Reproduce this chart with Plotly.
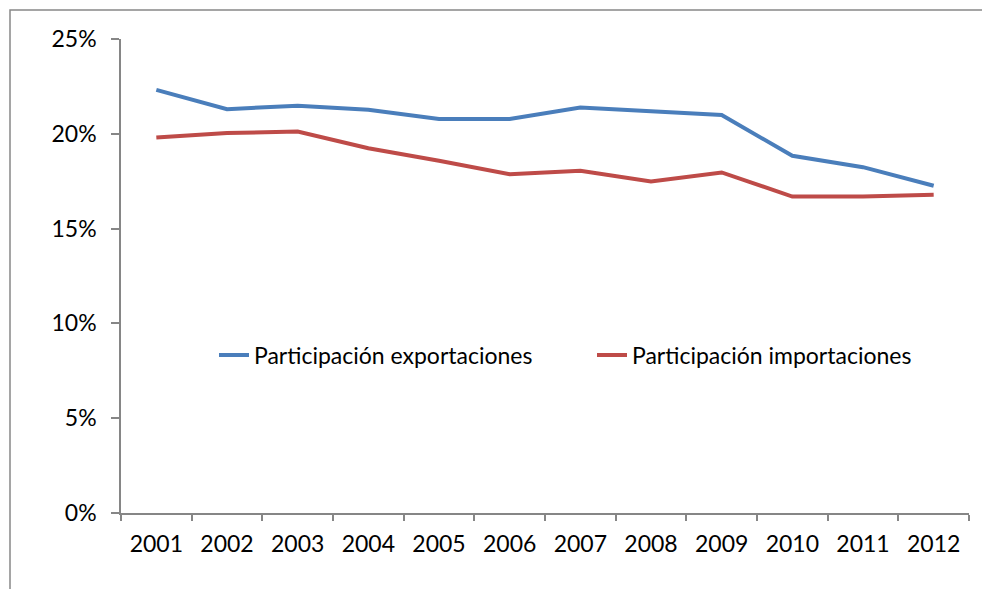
import plotly.graph_objects as go

years = ["2001", "2002", "2003", "2004", "2005", "2006", "2007", "2008", "2009", "2010", "2011", "2012"]
exportaciones = [0.2232, 0.2130, 0.2148, 0.2127, 0.2078, 0.2078, 0.2139, 0.2118, 0.2099, 0.1884, 0.1824, 0.1726]
importaciones = [0.1981, 0.2004, 0.2012, 0.1924, 0.1858, 0.1787, 0.1805, 0.1748, 0.1796, 0.1669, 0.1669, 0.1678]
series_names = ["Participación exportaciones", "Participación importaciones"]
y_ticks = [0, 0.05, 0.10, 0.15, 0.20, 0.25]

FONT = "Lato"
FS = 23
AXIS = "#868686"

fig = go.Figure()
fig.add_trace(go.Scatter(x=years, y=exportaciones, mode="lines", name=series_names[0],
                         line=dict(color="#4A7EBB", width=4), legend="legend"))
fig.add_trace(go.Scatter(x=years, y=importaciones, mode="lines", name=series_names[1],
                         line=dict(color="#BE4B48", width=4), legend="legend2"))

# page body has an 8px margin on every side: size the figure so the page never overflows
OFF = 8
W, H = 990 - 2 * OFF, 605 - 2 * OFF - 8
plot_left, plot_right, plot_top, plot_bottom = 121, 969, 39, 513  # window coordinates
L = plot_left - OFF
T = plot_top - OFF
R = (OFF + W) - plot_right
B = (OFF + H) - plot_bottom
pw = W - L - R
ph = H - T - B


def px_x(x):
    return (x - plot_left) / pw


def px_y(y):
    return (plot_bottom - y) / ph


legend_common = dict(orientation="h", xanchor="left", yanchor="middle", y=px_y(355),
                     bgcolor="rgba(0,0,0,0)", font=dict(size=FS, family=FONT))

fig.update_layout(
    width=W, height=H,
    margin=dict(l=L, r=R, t=T, b=B, autoexpand=False),
    paper_bgcolor="white", plot_bgcolor="white",
    font=dict(family=FONT, size=FS, color="black"),
    showlegend=True,
    legend=dict(x=px_x(214), **legend_common),
    legend2=dict(x=px_x(592), **legend_common),
    xaxis=dict(type="category", range=[-0.5, 11.5], showgrid=False, showline=True,
               linecolor=AXIS, linewidth=1.5, ticks="outside", tickson="boundaries",
               ticklen=6, tickcolor=AXIS, tickwidth=1.5, zeroline=False,
               tickfont=dict(size=FS, family=FONT), ticklabelstandoff=10),
    yaxis=dict(range=[0, 0.25], tickvals=y_ticks, tickformat=".0%", showgrid=False,
               showline=True, linecolor=AXIS, linewidth=1.5, ticks="outside",
               ticklen=8, tickcolor=AXIS, tickwidth=1.5, zeroline=False,
               tickfont=dict(size=FS, family=FONT), ticklabelstandoff=10),
    shapes=[
        # chart-area frame: its right and bottom sides lie outside the figure and are cut off
        dict(type="rect", xref="paper", yref="paper", layer="below",
             x0=px_x(10), x1=px_x(1150), y0=px_y(10), y1=px_y(760),
             line=dict(color="#888888", width=1.5), fillcolor="rgba(0,0,0,0)"),
    ],
)

fig.write_html("out.html")
